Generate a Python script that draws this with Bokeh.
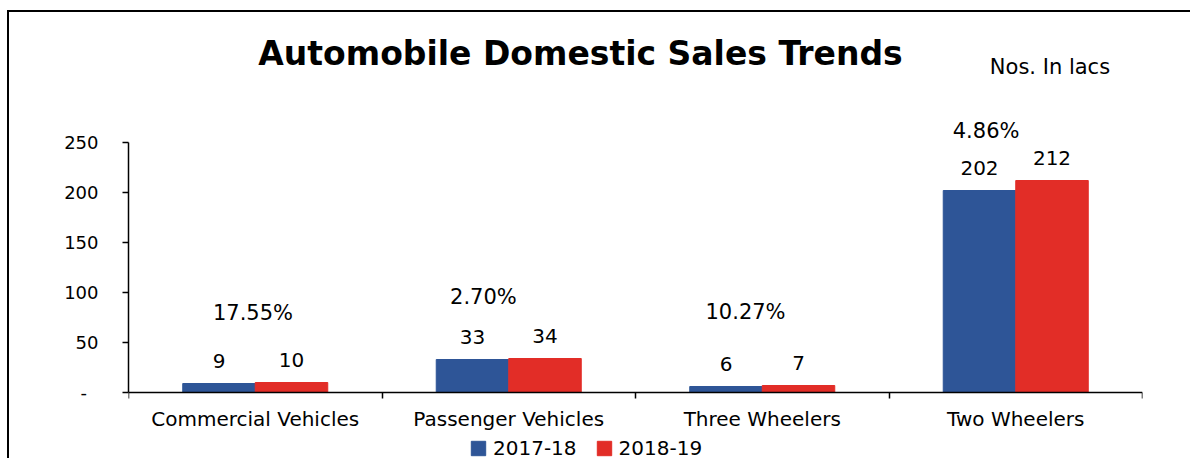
from bokeh.plotting import figure
from bokeh.models import Range1d, FixedTicker, Label, ColumnDataSource
from bokeh.embed import file_html
from bokeh.resources import INLINE
from bokeh.core.properties import value

# ---------------- data ----------------
categories = ["Commercial Vehicles", "Passenger Vehicles", "Three Wheelers", "Two Wheelers"]
years = ["2017-18", "2018-19"]
sales_2017_18 = [9, 33, 6, 202]
sales_2018_19 = [10, 34, 7, 212]
growth_labels = ["17.55%", "2.70%", "10.27%", "4.86%"]
y_ticks = [0, 50, 100, 150, 200, 250]
title_text = "Automobile Domestic Sales Trends"
unit_text = "Nos. In lacs"

# ---------------- layout / style ----------------
BLUE = "#2E5597"
RED = "#E22D27"
FONT = "DejaVu Sans"
BAR_W = 0.286
Y_AXIS_MAX = 250
growth_pos_x = [0.491, 1.400, 2.434, 3.383]
growth_pos_y = [80, 96, 81, 262]

idx = list(range(len(categories)))
src = ColumnDataSource(dict(
    x1=[i + 0.5 - BAR_W / 2 for i in idx],
    x2=[i + 0.5 + BAR_W / 2 for i in idx],
    v1=sales_2017_18,
    v2=sales_2018_19,
    t1=[str(v) for v in sales_2017_18],
    t2=[str(v) for v in sales_2018_19],
))

p = figure(width=1183, height=448,
           x_range=Range1d(0, len(categories)), y_range=Range1d(-68, 380),
           output_backend="svg", toolbar_location=None,
           min_border_left=119, min_border_right=50,
           min_border_top=0, min_border_bottom=0,
           outline_line_color=None, background_fill_color="white",
           border_fill_color="white")
p.styles = {"border-left": "2px solid black", "border-top": "2px solid black",
            "margin-top": "10px", "margin-left": "7px"}

p.xgrid.grid_line_color = None
p.ygrid.grid_line_color = None

# x axis at value 0: labels centred in categories, tick marks on category boundaries
xa = p.xaxis[0]
xa.fixed_location = 0
xa.ticker = FixedTicker(ticks=[i + 0.5 for i in idx], minor_ticks=list(range(len(categories) + 1)))
xa.major_label_overrides = {i + 0.5: c for i, c in zip(idx, categories)}
xa.major_tick_line_color = None
xa.major_tick_in = 0
xa.major_tick_out = 0
xa.minor_tick_in = 0
xa.minor_tick_out = 6
xa.minor_tick_line_color = "black"
xa.minor_tick_line_width = 1.5
xa.axis_line_color = "black"
xa.axis_line_width = 1.5
xa.major_label_standoff = 8
xa.major_label_text_font = FONT
xa.major_label_text_font_size = "20px"
xa.major_label_text_color = "black"

ya = p.yaxis[0]
ya.ticker = FixedTicker(ticks=y_ticks)
ya.bounds = (0, Y_AXIS_MAX)
ya.major_label_overrides = {0: "-\u00a0\u00a0"}
ya.major_tick_in = 0
ya.major_tick_out = 6
ya.major_tick_line_color = "black"
ya.major_tick_line_width = 1.5
ya.minor_tick_line_color = None
ya.axis_line_color = "black"
ya.axis_line_width = 1.5
ya.major_label_standoff = 24
ya.major_label_text_font = FONT
ya.major_label_text_font_size = "18px"
ya.major_label_text_color = "black"

# bars
p.vbar(x="x1", top="v1", width=BAR_W, source=src, fill_color=BLUE, line_color=BLUE,
       legend_label=years[0])
p.vbar(x="x2", top="v2", width=BAR_W, source=src, fill_color=RED, line_color=RED,
       legend_label=years[1])

# value labels
for xc, vc, tc in (("x1", "v1", "t1"), ("x2", "v2", "t2")):
    p.text(x=xc, y=vc, text=tc, source=src, text_align="center", text_baseline="alphabetic",
           y_offset=-23, text_font=value(FONT), text_font_size="20px", text_color="black")

# growth labels
for gx, gy, gt in zip(growth_pos_x, growth_pos_y, growth_labels):
    p.add_layout(Label(x=gx, y=gy, text=gt, text_align="center", text_baseline="alphabetic",
                       text_font=FONT, text_font_size="21px", text_color="black"))

# title and unit
p.add_layout(Label(x=1.783, y=339, text=title_text, text_align="center",
                   text_baseline="alphabetic", text_font=FONT, text_font_size="33px",
                   text_font_style="bold", text_color="black"))
p.add_layout(Label(x=3.635, y=326, text=unit_text, text_align="center",
                   text_baseline="alphabetic", text_font=FONT, text_font_size="21px",
                   text_color="black"))

# legend
lg = p.legend[0]
lg.orientation = "horizontal"
lg.location = (341, 0)
lg.border_line_color = None
lg.background_fill_alpha = 0
lg.padding = 0
lg.margin = 0
lg.spacing = 18
lg.glyph_width = 18
lg.glyph_height = 18
lg.label_standoff = 6
lg.label_text_font = FONT
lg.label_text_font_size = "20px"
lg.label_text_color = "black"

open("out.html", "w").write(file_html(p, INLINE))
